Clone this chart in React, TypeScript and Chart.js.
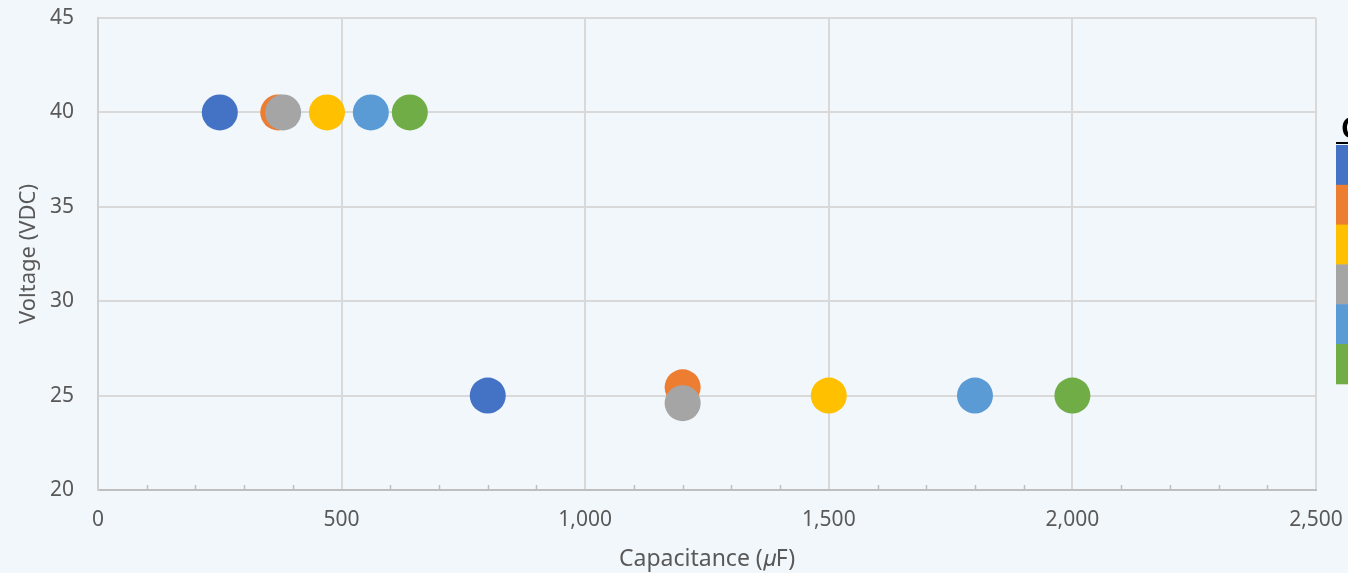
import React, { useEffect, useRef } from "react";
import { Chart, registerables } from "chart.js";

Chart.register(...registerables);

// ---- data ----
const seriesNames = ["Type A", "Type B", "Type C", "Type D", "Type E", "Type F"];
const seriesColors = ["#4472C4", "#ED7D31", "#FFC000", "#A5A5A5", "#5B9BD5", "#70AD47"];
const capA = [250, 800];
const voltA = [40, 25];
const capB = [370, 1200];
const voltB = [40, 25.44];
const capC = [470, 1500];
const voltC = [40, 25];
const capD = [380, 1200];
const voltD = [40, 24.6];
const capE = [560, 1800];
const voltE = [40, 25];
const capF = [640, 2000];
const voltF = [40, 25];
const legendTitle = "Capacitor";
const xTitle = "Capacitance (𝜇F)";
const yTitle = "Voltage (VDC)";

const allCaps = [capA, capB, capC, capD, capE, capF];
const allVolts = [voltA, voltB, voltC, voltD, voltE, voltF];
// draw order: lower = on top (grey over orange)
const drawOrder = [0, 2, 0, 1, 0, 0];

const BG = "#F2F7FC";
const FONT = "'Noto Sans', 'Open Sans', 'DejaVu Sans', sans-serif";

export default function App() {
  const ref = useRef<HTMLCanvasElement | null>(null);

  useEffect(() => {
    if (!ref.current) return;

    const bgPlugin = {
      id: "bg",
      beforeDraw(chart: any) {
        const { ctx, width, height } = chart;
        ctx.save();
        ctx.fillStyle = BG;
        ctx.fillRect(0, 0, width, height);
        ctx.restore();
      },
    };

    const minorTicks = {
      id: "minorTicks",
      afterDraw(chart: any) {
        const { ctx } = chart;
        const xs = chart.scales.x;
        const yb = chart.chartArea.bottom;
        ctx.save();
        ctx.strokeStyle = "#BFBFBF";
        ctx.lineWidth = 1.5;
        for (let v = 100; v < 2500; v += 100) {
          if (v % 500 === 0) continue;
          const px = Math.round(xs.getPixelForValue(v)) + 0.5;
          ctx.beginPath();
          ctx.moveTo(px, yb);
          ctx.lineTo(px, yb - 5);
          ctx.stroke();
        }
        ctx.restore();
      },
    };

    const legendPlugin = {
      id: "customLegend",
      afterDraw(chart: any) {
        const { ctx } = chart;
        ctx.save();
        ctx.fillStyle = "#000000";
        ctx.font = `bold 28px ${FONT}`;
        ctx.textBaseline = "alphabetic";
        ctx.textAlign = "left";
        ctx.fillText(legendTitle, 1341, 138);
        ctx.fillRect(1336, 142, 60, 2);
        const top = 145;
        const h = 39.8;
        chart.data.datasets.forEach((ds: any, i: number) => {
          ctx.fillStyle = ds.backgroundColor;
          ctx.fillRect(1336, top + i * h, 60, h + 0.5);
        });
        ctx.restore();
      },
    };

    const chart = new Chart(ref.current, {
      type: "scatter",
      data: {
        datasets: seriesNames.map((name, i) => ({
          label: name,
          data: allCaps[i].map((c, j) => ({ x: c, y: allVolts[i][j] })),
          backgroundColor: seriesColors[i],
          borderColor: seriesColors[i],
          borderWidth: 0,
          pointRadius: 18,
          pointHoverRadius: 18,
          order: drawOrder[i],
        })),
      },
      options: {
        responsive: false,
        animation: false,
        events: [],
        layout: { padding: { left: 0, right: 32, top: 17, bottom: 0 } },
        plugins: {
          legend: { display: false },
          tooltip: { enabled: false },
          title: { display: false },
        },
        scales: {
          x: {
            type: "linear",
            min: 0,
            max: 2500,
            afterFit: (s: any) => {
              s.height = 83;
              s.paddingLeft = 0;
              s.paddingRight = 0;
            },
            ticks: {
              stepSize: 500,
              color: "#595959",
              font: { family: FONT, size: 21 },
              padding: 17,
              maxRotation: 0,
              callback: (v: any) => Number(v).toLocaleString("en-US"),
            },
            grid: { color: "#D9D9D9", lineWidth: 2, drawTicks: false },
            border: { color: "#BFBFBF", width: 2 },
            title: {
              display: true,
              text: xTitle,
              color: "#595959",
              font: { family: FONT, size: 23 },
              padding: { top: 0, bottom: 0 },
            },
          },
          y: {
            type: "linear",
            min: 20,
            max: 45,
            afterFit: (s: any) => {
              s.width = 98;
              s.paddingTop = 0;
              s.paddingBottom = 0;
            },
            ticks: {
              stepSize: 5,
              color: "#595959",
              font: { family: FONT, size: 21 },
              padding: 24,
            },
            grid: { color: "#D9D9D9", lineWidth: 2, drawTicks: false },
            border: { color: "#D0D0D0", width: 2 },
            title: {
              display: true,
              text: yTitle,
              color: "#595959",
              font: { family: FONT, size: 22 },
              padding: { top: 16, bottom: 0 },
            },
          },
        },
      },
      plugins: [bgPlugin, minorTicks, legendPlugin],
    });

    return () => chart.destroy();
  }, []);

  return (
    <div
      style={{
        position: "fixed",
        left: 0,
        top: 0,
        width: 1348,
        height: 573,
        background: BG,
        overflow: "hidden",
      }}
    >
      <canvas ref={ref} width={1348} height={573} style={{ display: "block" }} />
    </div>
  );
}
